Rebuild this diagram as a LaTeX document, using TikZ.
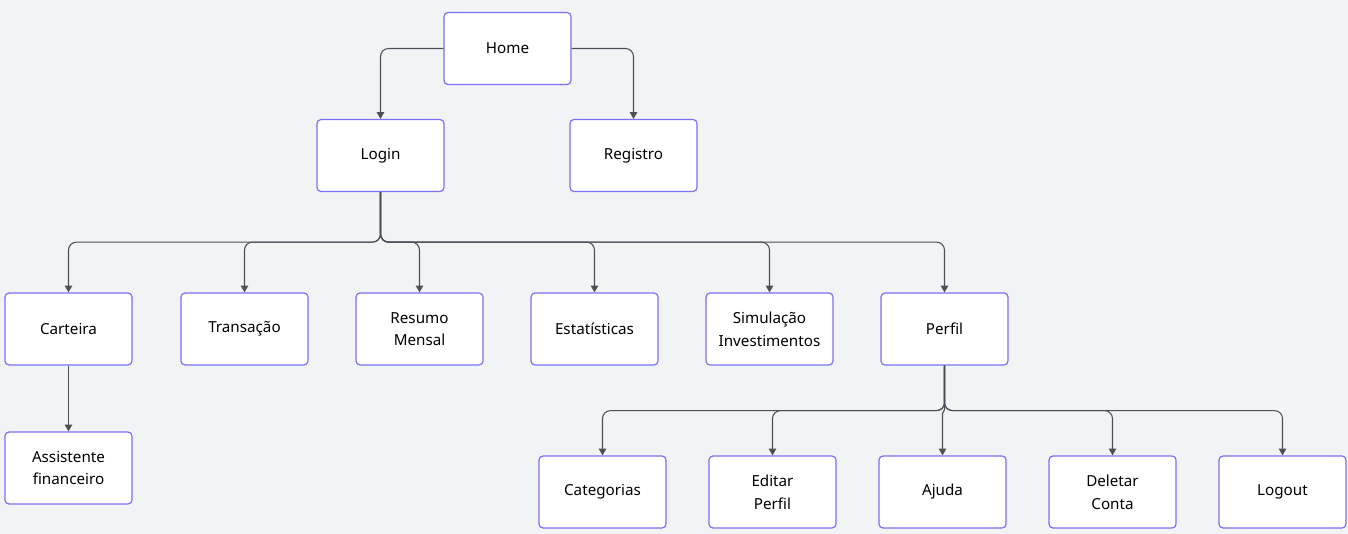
\documentclass[tikz,border=0pt]{standalone}
\usepackage{fontspec}
\setmainfont{Noto Sans}
\usepackage{xcolor}
\usetikzlibrary{arrows.meta,positioning}
\definecolor{bgcol}{HTML}{F2F3F5}
\definecolor{boxline}{HTML}{7A70F5}
\definecolor{linkcol}{HTML}{4B4F58}

\begin{document}
\begin{tikzpicture}[x=0.75pt, y=-0.75pt,
  box/.style={
    draw=boxline, fill=white, rounded corners=3pt,
    minimum width=95.25pt, minimum height=54pt,
    text width=90pt, align=center, inner sep=0pt,
    font=\fontsize{11.4}{17}\selectfont, line width=0.9pt
  },
  arr/.style={-{Triangle[length=5pt,width=5.5pt]}, line width=0.8pt,
    linkcol, rounded corners=6pt}]

% Background and margins
\fill[bgcol] (0,0) rectangle (1348,534);
\useasboundingbox (0,0) rectangle (1348,534);

% Top levels
\node[box] (home)  at (507.5,48.5)  {Home};
\node[box] (login) at (380.5,155.5) {Login};
\node[box] (reg)   at (633.5,155.5) {Registro};

% Pages after login
\node[box] (cart)   at (68.5,329)  {Carteira};
\node[box] (trans)  at (244.5,329) {Transação};
\node[box] (resumo) at (419.5,329) {Resumo\\Mensal};
\node[box] (estat)  at (594.5,329) {Estatísticas};
\node[box] (simul)  at (769.5,329) {Simulação\\Investimentos};
\node[box] (perfil) at (944.5,329) {Perfil};

\node[box] (assist) at (68.5,468)  {Assistente\\financeiro};

% Perfil pages
\node[box] (categ)   at (602.5,492)  {Categorias};
\node[box] (editar)  at (772.5,492)  {Editar\\Perfil};
\node[box] (ajuda)   at (942.5,492)  {Ajuda};
\node[box] (deletar) at (1112.5,492) {Deletar\\Conta};
\node[box] (logout)  at (1282.5,492) {Logout};

% Connecting arrows
\draw[arr] (home.west) -| (login.north);
\draw[arr] (home.east) -| (reg.north);

\foreach \t in {cart,trans,resumo,estat,simul,perfil}
  \draw[arr] (login.south) -- ++(0,50) -| (\t.north);

\draw[arr] (cart.south) -- (assist.north);

\foreach \t in {categ,editar,deletar,logout}
  \draw[arr] (perfil.south) -- ++(0,45) -| (\t.north);
\draw[arr, rounded corners=0pt] (perfil.south) -- ++(0,44) -- ++(-2,4) -- (ajuda.north);

\end{tikzpicture}
\end{document}
